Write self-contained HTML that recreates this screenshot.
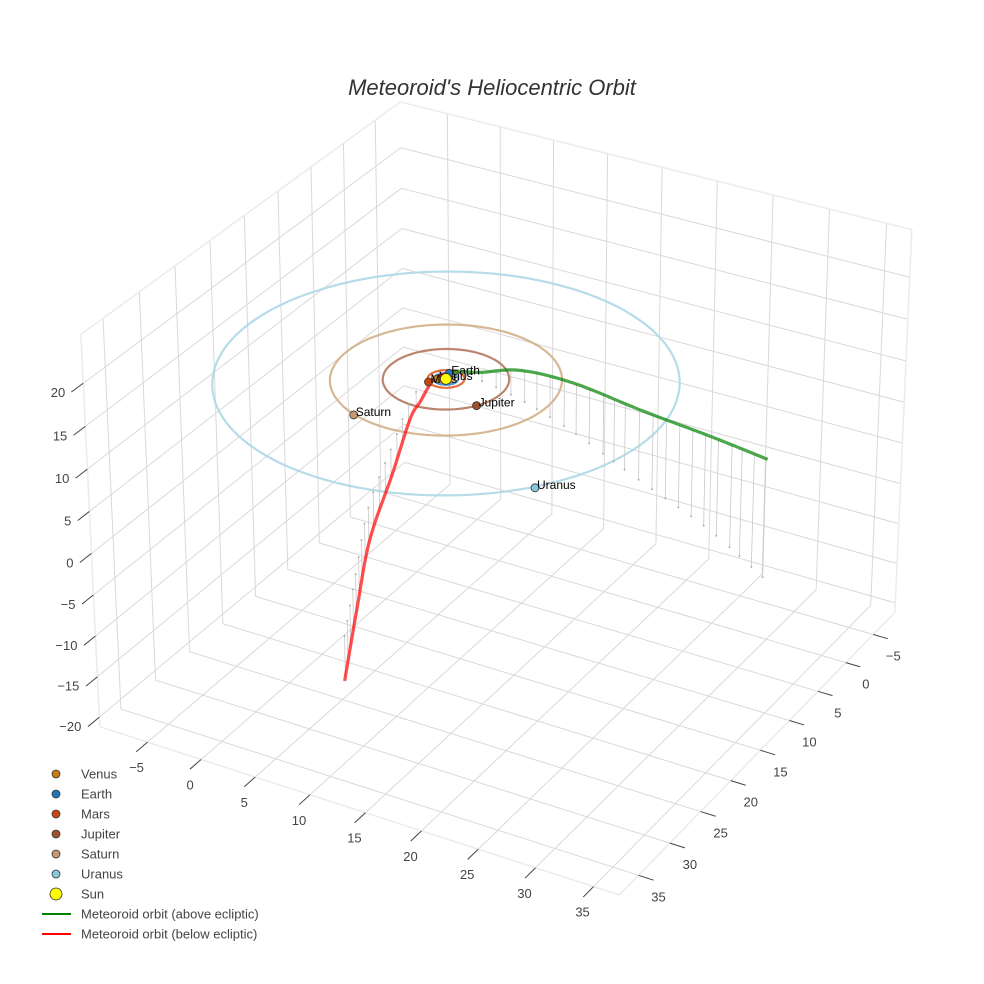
<!DOCTYPE html>
<html><head><meta charset="utf-8">
<style>
html,body{margin:0;padding:0;background:#fff;}
svg{display:block;font-family:"Liberation Sans",Arial,sans-serif;}
</style></head>
<body>
<svg id="chart" width="984" height="984" viewBox="0 0 984 984">
<rect width="984" height="984" fill="#fff"/>
<text x="492" y="95" text-anchor="middle" font-size="22" font-style="italic" fill="#333">Meteoroid's Heliocentric Orbit</text>
<g id="grid"></g>
<g id="axes"></g>
<g id="orbits"></g>
<g id="meteor"></g>
<g id="planets"></g>
<g id="legend"></g>
</svg>
<script>
// ---- data ----
const xTicks = [-5,0,5,10,15,20,25,30,35];
const yTicks = [-5,0,5,10,15,20,25,30,35];
const zTicks = [-20,-15,-10,-5,0,5,10,15,20];
const xRange = [-9.5, 37.2];
const yRange = [-9, 38];
const zRange = [-21.2, 25.6];
const planetNames = ["Venus","Earth","Mars","Jupiter","Saturn","Uranus"];
const planetRadius = [0.72, 1.0, 1.52, 5.2, 9.54, 19.2];
const planetX = [-0.62, -0.26, -0.98, 4.46, -3.4, 15.2];
const planetY = [0.36, -0.97, 1.16, 2.68, 9.0, 12.0];
const planetColors = ["#c97c10","#1f77b4","#c8450f","#a0522d","#c49a73","#87c8de"];
const orbitColors = ["#e08a2a","#3a8ad0","#e0602a","#b5785e","#d2b08a","#add8e6"];
const aboveX = [-0.3, 0.8, 2.6, 7.0, 13.4, 22.1, 29.9, 37.3];
const aboveY = [-1.2, -1.3, -1.2, 0.0, 2.6, 7.0, 10.8, 15.4];
const aboveZ = [0.0, 0.4, 1.0, 3.6, 6.0, 8.6, 11.0, 14.0];
const belowX = [-0.3, -1.0, -1.04, -0.6, 2.0, 5.2, 9.6, 14.1];
const belowY = [-1.2, 0.3, 2.43, 4.8, 12.0, 20.8, 30.0, 39.2];
const belowZ = [0.0, -0.3, -1.7, -2.2, -3.4, -4.3, -4.6, -4.8];

// ---- projection (DLT fitted to box corners) ----
const NS = "http://www.w3.org/2000/svg";
const corners = [[0,1,0,100,727],[1,1,0,619,895],[1,0,0,895,612],[0,1,1,81,334],[0,0,1,400,102],[1,0,1,912,230]];
function solveDLT(){
  const rows=[], rhs=[];
  corners.forEach(c=>{
    const [X,Y,Z,u,v]=c;
    rows.push([X,Y,Z,1,0,0,0,0,-u*X,-u*Y,-u*Z]); rhs.push(u);
    rows.push([0,0,0,0,X,Y,Z,1,-v*X,-v*Y,-v*Z]); rhs.push(v);
  });
  const n=11, A=[], b=[];
  for(let i=0;i<n;i++){A.push(new Array(n).fill(0)); b.push(0);}
  rows.forEach((r,k)=>{for(let i=0;i<n;i++){b[i]+=r[i]*rhs[k];for(let j=0;j<n;j++)A[i][j]+=r[i]*r[j];}});
  for(let i=0;i<n;i++)A[i][i]+=1e-9;
  for(let i=0;i<n;i++){
    let p=i;for(let r=i+1;r<n;r++)if(Math.abs(A[r][i])>Math.abs(A[p][i]))p=r;
    [A[i],A[p]]=[A[p],A[i]];[b[i],b[p]]=[b[p],b[i]];
    for(let r=0;r<n;r++){if(r===i)continue;const f=A[r][i]/A[i][i];for(let c=i;c<n;c++)A[r][c]-=f*A[i][c];b[r]-=f*b[i];}
  }
  return b.map((v,i)=>v/A[i][i]);
}
const P=solveDLT();
function proj(x,y,z){
  const X=(x-xRange[0])/(xRange[1]-xRange[0]),Y=(y-yRange[0])/(yRange[1]-yRange[0]),Z=(z-zRange[0])/(zRange[1]-zRange[0]);
  const w=P[8]*X+P[9]*Y+P[10]*Z+1;
  return [(P[0]*X+P[1]*Y+P[2]*Z+P[3])/w,(P[4]*X+P[5]*Y+P[6]*Z+P[7])/w];
}
function mk(tag,attrs,parent){const e=document.createElementNS(NS,tag);for(const k in attrs)e.setAttribute(k,attrs[k]);parent.appendChild(e);return e;}
function line3(a,b,parent,stroke,w,name){
  const p=proj(...a),q=proj(...b);
  const l=mk('line',{x1:p[0],y1:p[1],x2:q[0],y2:q[1],stroke:stroke,'stroke-width':w},parent);
  
  
  return l;
}
const [x0,x1]=xRange,[y0,y1]=yRange,[z0,z1]=zRange;
const G=document.getElementById('grid');
const gc="#d9d9d9";
xTicks.forEach(t=>line3([t,y0,z0],[t,y1,z0],G,gc,1,'floor-grid-x'));
yTicks.forEach(t=>line3([x0,t,z0],[x1,t,z0],G,gc,1,'floor-grid-y'));
yTicks.forEach(t=>line3([x0,t,z0],[x0,t,z1],G,gc,1,'left-wall-grid-y'));
zTicks.forEach(t=>line3([x0,y0,t],[x0,y1,t],G,gc,1,'left-wall-grid-z'));
xTicks.forEach(t=>line3([t,y0,z0],[t,y0,z1],G,gc,1,'back-wall-grid-x'));
zTicks.forEach(t=>line3([x0,y0,t],[x1,y0,t],G,gc,1,'back-wall-grid-z'));
const ec="#ebebeb";
[[[x0,y1,z0],[x1,y1,z0]],[[x1,y1,z0],[x1,y0,z0]],[[x0,y1,z0],[x0,y1,z1]],[[x0,y1,z1],[x0,y0,z1]],[[x0,y0,z1],[x1,y0,z1]],[[x1,y0,z1],[x1,y0,z0]]].forEach(e=>line3(e[0],e[1],G,ec,1.5,'box-edge'));

const AX=document.getElementById('axes');
function label(x,y,txt,anchor,name){
  const t=mk('text',{x:x,y:y,'font-size':13,fill:'#444','text-anchor':anchor},AX);
  t.textContent=txt;
  
  
}
const fmt=v=>v<0?'\u2212'+Math.abs(v):String(v);
xTicks.forEach(t=>{
  line3([t,y1,z0],[t,y1+1.6,z0],AX,'#444',1,'x-tick');
  const p=proj(t,y1,z0); label(p[0]-11,p[1]+30,fmt(t),'middle','x-tick-label');
});
yTicks.forEach(t=>{
  line3([x1,t,z0],[x1+1.3,t,z0],AX,'#444',1,'y-tick');
  const p=proj(x1,t,z0); label(p[0]+20,p[1]+26,fmt(t),'middle','y-tick-label');
});
zTicks.forEach(t=>{
  line3([x0,y1,t],[x0,y1+1.6,t],AX,'#444',1,'z-tick');
  const p=proj(x0,y1,t); label(p[0]-18,p[1]+14,fmt(t),'end','z-tick-label');
});

const O=document.getElementById('orbits');
planetRadius.forEach((r,i)=>{
  let d='';
  for(let k=0;k<=120;k++){const a=k/120*2*Math.PI;const p=proj(r*Math.cos(a),r*Math.sin(a),0);d+=(k?'L':'M')+p[0].toFixed(1)+','+p[1].toFixed(1);}
  const e=mk('path',{d:d,fill:'none',stroke:orbitColors[i],'stroke-width':2.2,opacity:0.9},O);
  
  
});

const M=document.getElementById('meteor');
function spline(X,Y,Z){
  const pts=X.map((v,i)=>[v,Y[i],Z[i]]),out=[];
  for(let i=0;i<pts.length-1;i++){
    const p0=pts[Math.max(0,i-1)],p1=pts[i],p2=pts[i+1],p3=pts[Math.min(pts.length-1,i+2)];
    for(let s=0;s<20;s++){const t=s/20,t2=t*t,t3=t2*t;
      out.push([0,1,2].map(k=>0.5*((2*p1[k])+(-p0[k]+p2[k])*t+(2*p0[k]-5*p1[k]+4*p2[k]-p3[k])*t2+(-p0[k]+3*p1[k]-3*p2[k]+p3[k])*t3)));}
  }
  out.push(pts[pts.length-1]);return out;
}
function drawTraj(X,Y,Z,color,name,step){
  const s=spline(X,Y,Z);
  let acc=0;
  for(let i=1;i<s.length;i++){
    acc+=Math.hypot(s[i][0]-s[i-1][0],s[i][1]-s[i-1][1]);
    if(acc>=step){acc=0;
      line3(s[i],[s[i][0],s[i][1],0],M,'#c8c8c8',0.8,'drop-line');
      const q=proj(s[i][0],s[i][1],0);
      const c=mk('circle',{cx:q[0],cy:q[1],r:1,fill:'#b0b0b0'},M);
      
      
    }
  }
  let d='';s.forEach((p,k)=>{const q=proj(...p);d+=(k?'L':'M')+q[0].toFixed(1)+','+q[1].toFixed(1);});
  const e=mk('path',{d:d,fill:'none',stroke:color,'stroke-width':3.2,'stroke-opacity':0.7,'stroke-linejoin':'round'},M);
  
  
}
drawTraj(aboveX,aboveY,aboveZ,'#008000','meteoroid-orbit-above',1.5);
drawTraj(belowX,belowY,belowZ,'#ff0000','meteoroid-orbit-below',2.2);

const PL=document.getElementById('planets');
planetNames.forEach((n,i)=>{
  const p=proj(planetX[i],planetY[i],0);
  const c=mk('circle',{cx:p[0],cy:p[1],r:4,fill:planetColors[i],stroke:'#333','stroke-width':0.8},PL);
  
  
  const t=mk('text',{x:p[0]+2,y:p[1]+1,'font-size':12,fill:'#000'},PL);
  t.textContent=n;
  
  
});
const sp=proj(0,0,0);
const sun=mk('circle',{cx:sp[0],cy:sp[1],r:5.5,fill:'#ffff00',stroke:'#333','stroke-width':0.8},PL);



const L=document.getElementById('legend');
const legNames=planetNames.concat(["Sun"]);
const legColors=planetColors.concat(["#ffff00"]);
legNames.forEach((n,i)=>{
  const y=774+i*20;
  const g=mk('g',{},L);
  
  
  mk('circle',{cx:56,cy:y,r:n==="Sun"?6:4,fill:legColors[i],stroke:'#333','stroke-width':0.8},g);
  const t=mk('text',{x:81,y:y+4.5,'font-size':13,fill:'#444'},g);t.textContent=n;
});
[["Meteoroid orbit (above ecliptic)","#008000"],["Meteoroid orbit (below ecliptic)","#ff0000"]].forEach((e,i)=>{
  const y=914+i*20;
  const g=mk('g',{},L);
  
  
  mk('line',{x1:42,y1:y,x2:71,y2:y,stroke:e[1],'stroke-width':2},g);
  const t=mk('text',{x:81,y:y+4.5,'font-size':13,fill:'#444'},g);t.textContent=e[0];
});
</script>
</body></html>
